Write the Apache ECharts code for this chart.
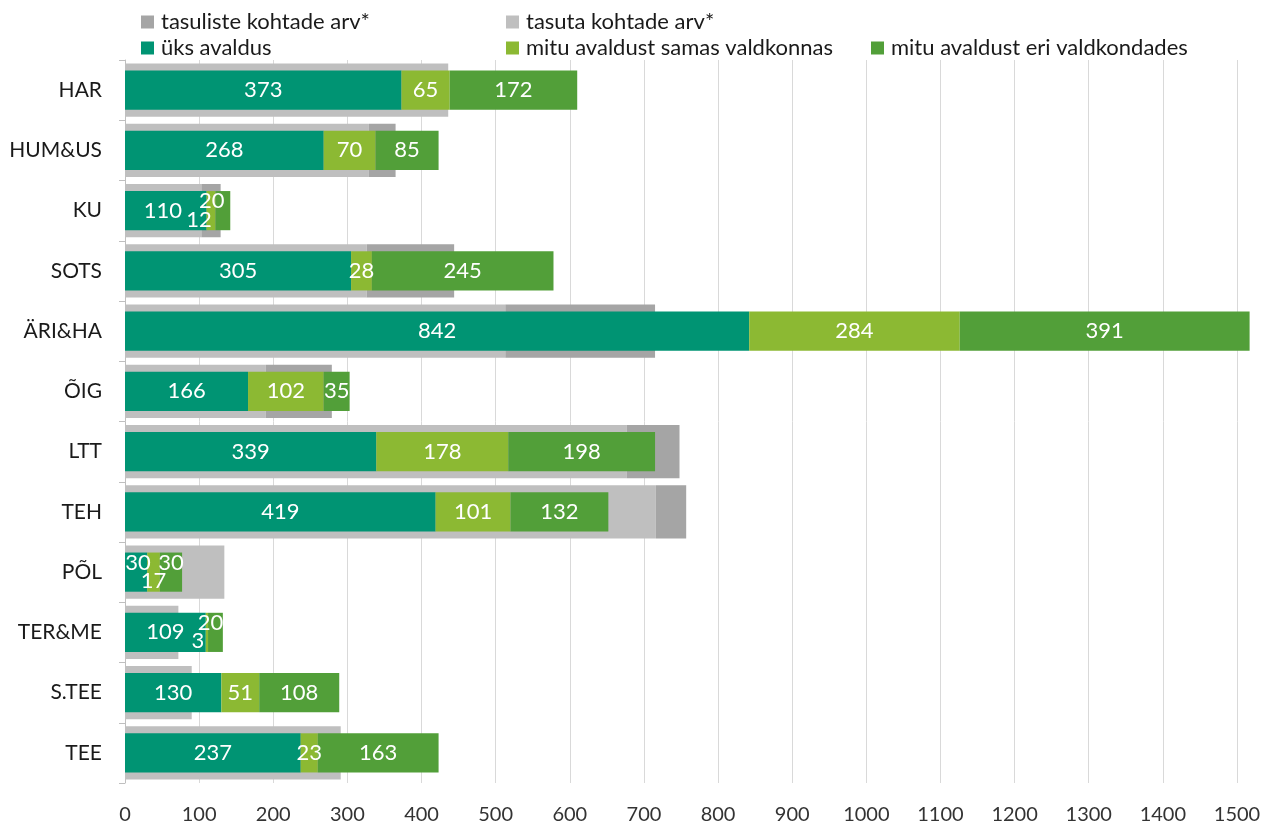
<!DOCTYPE html>
<html>
<head>
<meta charset="utf-8">
<script src="https://cdn.jsdelivr.net/npm/echarts@6/dist/echarts.min.js"></script>
<style>
  html, body { margin: 0; padding: 0; background: #fff; }
  #chart { width: 1269px; height: 825px; }
</style>
</head>
<body>
<div id="chart"></div>
<script>
const categories = ['HAR', 'HUM&US', 'KU', 'SOTS', 'ÄRI&HA', 'ÕIG', 'LTT', 'TEH', 'PÕL', 'TER&ME', 'S.TEE', 'TEE']

// taustal olevad kohtade arvud (hinnatud pildilt)
const tasutaKohad = [436, 329, 103, 326, 513, 190, 677, 716, 134, 72, 90, 291]
const tasulisedKohad = [0, 36, 26, 118, 202, 89, 71, 41, 0, 0, 0, 0]

// avalduste arvud
const uksAvaldus = [373, 268, 110, 305, 842, 166, 339, 419, 30, 109, 130, 237]
const samasValdkonnas = [65, 70, 12, 28, 284, 102, 178, 101, 17, 3, 51, 23]
const eriValdkondades = [172, 85, 20, 245, 391, 35, 198, 132, 30, 20, 108, 163]

const xTicks = [0, 100, 200, 300, 400, 500, 600, 700, 800, 900, 1000, 1100, 1200, 1300, 1400, 1500]

// väikeste lõikude siltide nihutamine, et need ei kattuks
const nudge = {
  'KU': [[-3, 0], [-12, 9], [-11, -10]],
  'PÕL': [[2, -9], [0, 9], [0, -9]],
  'TER&ME': [null, [-9, 9], [-5, -9]]
}

const font = "Lato, 'Open Sans', sans-serif"

function greenData(values, idx) {
  return values.map((v, i) => {
    const n = nudge[categories[i]]
    if (n && n[idx]) {
      return { value: v, label: { offset: n[idx] } }
    }
    return v
  })
}

function legend(name, left, top) {
  return {
    data: [name],
    left: left,
    top: top,
    padding: 0,
    itemWidth: 13,
    itemHeight: 13,
    itemGap: 0,
    icon: 'rect',
    textStyle: { fontSize: 22, color: '#1a1a1a', fontFamily: font, lineHeight: 26, padding: [0, 0, 0, 2] }
  }
}

const chart = echarts.init(document.getElementById('chart'))

const greenLabel = {
  show: true,
  position: 'inside',
  color: '#fff',
  fontSize: 22,
  fontFamily: font
}

chart.setOption({
  animation: false,
  legend: [
    legend('tasuliste kohtade arv*', 141, 9),
    legend('tasuta kohtade arv*', 506, 9),
    legend('üks avaldus', 141, 35),
    legend('mitu avaldust samas valdkonnas', 506, 35),
    legend('mitu avaldust eri valdkondades', 871, 35)
  ],
  grid: {
    left: 125,
    right: 32,
    top: 60,
    bottom: 41
  },
  xAxis: {
    type: 'value',
    min: 0,
    max: 1500,
    interval: 100,
    axisLine: { show: false },
    axisTick: { show: false },
    splitLine: { lineStyle: { color: '#d9d9d9', width: 1 } },
    axisLabel: {
      color: '#333',
      fontSize: 20,
      fontFamily: font,
      margin: 22,
      formatter: v => xTicks.indexOf(v) >= 0 ? String(v) : ''
    }
  },
  yAxis: [
    {
      type: 'category',
      inverse: true,
      data: categories,
      axisLine: { lineStyle: { color: '#bfbfbf' } },
      axisTick: { show: true, length: 6, lineStyle: { color: '#bfbfbf' } },
      axisLabel: {
        color: '#1a1a1a',
        fontSize: 21,
        fontFamily: font,
        margin: 23
      }
    },
    {
      type: 'category',
      inverse: true,
      data: categories,
      show: false
    }
  ],
  series: [
    {
      name: 'tasuta kohtade arv*',
      type: 'bar',
      stack: 'kohad',
      yAxisIndex: 1,
      barWidth: '88%',
      itemStyle: { color: '#bfbfbf' },
      data: tasutaKohad,
      z: 1
    },
    {
      name: 'tasuliste kohtade arv*',
      type: 'bar',
      stack: 'kohad',
      yAxisIndex: 1,
      barWidth: '88%',
      itemStyle: { color: '#a5a5a5' },
      data: tasulisedKohad,
      z: 1
    },
    {
      name: 'üks avaldus',
      type: 'bar',
      stack: 'avaldused',
      yAxisIndex: 0,
      barWidth: '65%',
      clip: false,
      itemStyle: { color: '#009473' },
      label: greenLabel,
      data: greenData(uksAvaldus, 0),
      z: 3
    },
    {
      name: 'mitu avaldust samas valdkonnas',
      type: 'bar',
      stack: 'avaldused',
      yAxisIndex: 0,
      barWidth: '65%',
      clip: false,
      itemStyle: { color: '#8cb933' },
      label: greenLabel,
      data: greenData(samasValdkonnas, 1),
      z: 3
    },
    {
      name: 'mitu avaldust eri valdkondades',
      type: 'bar',
      stack: 'avaldused',
      yAxisIndex: 0,
      barWidth: '65%',
      clip: false,
      itemStyle: { color: '#529f39' },
      label: greenLabel,
      data: greenData(eriValdkondades, 2),
      z: 3
    }
  ]
})
</script>
</body>
</html>
